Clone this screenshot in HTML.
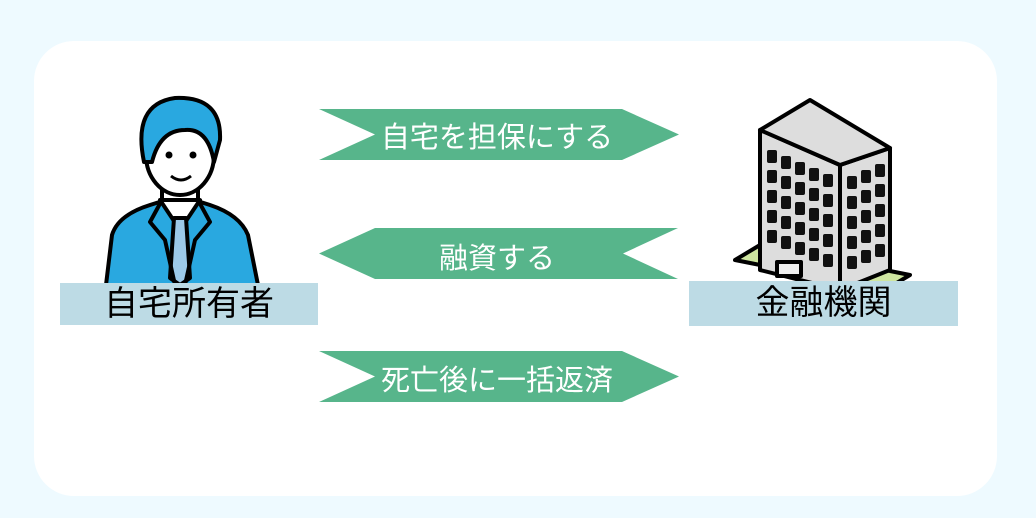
<!DOCTYPE html>
<html><head><meta charset="utf-8"><style>
html,body{margin:0;padding:0}
body{width:1036px;height:518px;background:#eefaff;position:relative;overflow:hidden;font-family:"Liberation Sans","Noto Sans CJK JP",sans-serif}
.card{position:absolute;left:34px;top:41px;width:963px;height:455px;background:#fff;border-radius:40px}
.lbl{position:absolute;background:#bddbe5;color:#000;font-size:34px;text-align:center;}
.t{position:absolute;color:#fff;font-size:29px;text-align:center;width:362px;left:316px}
svg{position:absolute;left:0;top:0}
</style></head><body>
<div class="card"></div>
<svg width="1036" height="518">
<polygon points="319,109 622,109 679,134.5 622,160 319,160 375,134.5" fill="#57b58b"/>
<polygon points="375,228 678,228 623,253.5 678,279 375,279 319,253.5" fill="#57b58b"/>
<polygon points="319,351 622,351 679,376.5 622,402 319,402 375,376.5" fill="#57b58b"/>
<!-- person -->
<g stroke="#000" stroke-width="4" stroke-linejoin="round">
<path d="M106,285 L112,235 Q118,215 150,205 L172,198 L188,198 L210,205 Q240,215 248,235 L258,285 Z" fill="#29a8e0"/>
<path d="M160,200 L180,230 L200,200 Z" fill="#fff"/>
<path d="M174,218 L186,218 L190,278 L180,285 L170,278 Z" fill="#9cc9e8"/>
<path d="M162,200 L150,222 L165,240 L175,285 M198,200 L210,222 L195,240 L185,285" fill="none"/>
<path d="M162,175 L162,200 L198,200 L198,175" fill="#fff"/>
<ellipse cx="180" cy="155" rx="34" ry="40" fill="#fff"/>
<path d="M144,162 Q132,104 175,98 Q222,96 220,140 L214,162 Q208,128 185,130 Q160,130 152,162 Z" fill="#29a8e0"/>
</g>
<circle cx="169" cy="155" r="3.5"/><circle cx="193" cy="155" r="3.5"/>
<path d="M171,176 Q181,184 191,176" stroke="#000" stroke-width="3" fill="none"/>
<!-- building -->
<g stroke="#000" stroke-width="4" stroke-linejoin="round">
<path d="M735,260 L760,245 L910,275 L885,290 Z" fill="#cfe6a0"/>
<path d="M760,130 L840,165 L840,290 L760,270 Z" fill="#ddd"/>
<path d="M840,165 L890,148 L890,270 L840,290 Z" fill="#ddd"/>
<path d="M760,130 L810,100 L890,148 L840,165 Z" fill="#ddd"/>
<rect x="777" y="262" width="24" height="14" fill="#eee"/>
</g>
<g fill="#111">
<rect x="767" y="150" width="10" height="13" rx="2"/><rect x="781" y="156" width="10" height="13" rx="2"/><rect x="795" y="162" width="10" height="13" rx="2"/><rect x="809" y="168" width="10" height="13" rx="2"/><rect x="823" y="174" width="10" height="13" rx="2"/>
<rect x="767" y="170" width="10" height="13" rx="2"/><rect x="781" y="176" width="10" height="13" rx="2"/><rect x="795" y="182" width="10" height="13" rx="2"/><rect x="809" y="188" width="10" height="13" rx="2"/><rect x="823" y="194" width="10" height="13" rx="2"/>
<rect x="767" y="190" width="10" height="13" rx="2"/><rect x="781" y="196" width="10" height="13" rx="2"/><rect x="795" y="202" width="10" height="13" rx="2"/><rect x="809" y="208" width="10" height="13" rx="2"/><rect x="823" y="214" width="10" height="13" rx="2"/>
<rect x="767" y="210" width="10" height="13" rx="2"/><rect x="781" y="216" width="10" height="13" rx="2"/><rect x="795" y="222" width="10" height="13" rx="2"/><rect x="809" y="228" width="10" height="13" rx="2"/><rect x="823" y="234" width="10" height="13" rx="2"/>
<rect x="767" y="230" width="10" height="13" rx="2"/><rect x="781" y="236" width="10" height="13" rx="2"/><rect x="795" y="242" width="10" height="13" rx="2"/><rect x="809" y="248" width="10" height="13" rx="2"/><rect x="823" y="254" width="10" height="13" rx="2"/>
<rect x="847" y="176" width="10" height="13" rx="2"/><rect x="861" y="170" width="10" height="13" rx="2"/><rect x="875" y="164" width="10" height="13" rx="2"/>
<rect x="847" y="196" width="10" height="13" rx="2"/><rect x="861" y="190" width="10" height="13" rx="2"/><rect x="875" y="184" width="10" height="13" rx="2"/>
<rect x="847" y="216" width="10" height="13" rx="2"/><rect x="861" y="210" width="10" height="13" rx="2"/><rect x="875" y="204" width="10" height="13" rx="2"/>
<rect x="847" y="236" width="10" height="13" rx="2"/><rect x="861" y="230" width="10" height="13" rx="2"/><rect x="875" y="224" width="10" height="13" rx="2"/>
<rect x="847" y="256" width="10" height="13" rx="2"/><rect x="861" y="250" width="10" height="13" rx="2"/><rect x="875" y="244" width="10" height="13" rx="2"/>
</g>
</svg>
<div class="t" style="top:114px">自宅を担保にする</div>
<div class="t" style="top:235px">融資する</div>
<div class="t" style="top:357px">死亡後に一括返済</div>
<div class="lbl" style="left:60px;top:283px;width:258px;height:42px;line-height:42px">自宅所有者</div>
<div class="lbl" style="left:689px;top:281px;width:269px;height:45px;line-height:45px">金融機関</div>
</body></html>
